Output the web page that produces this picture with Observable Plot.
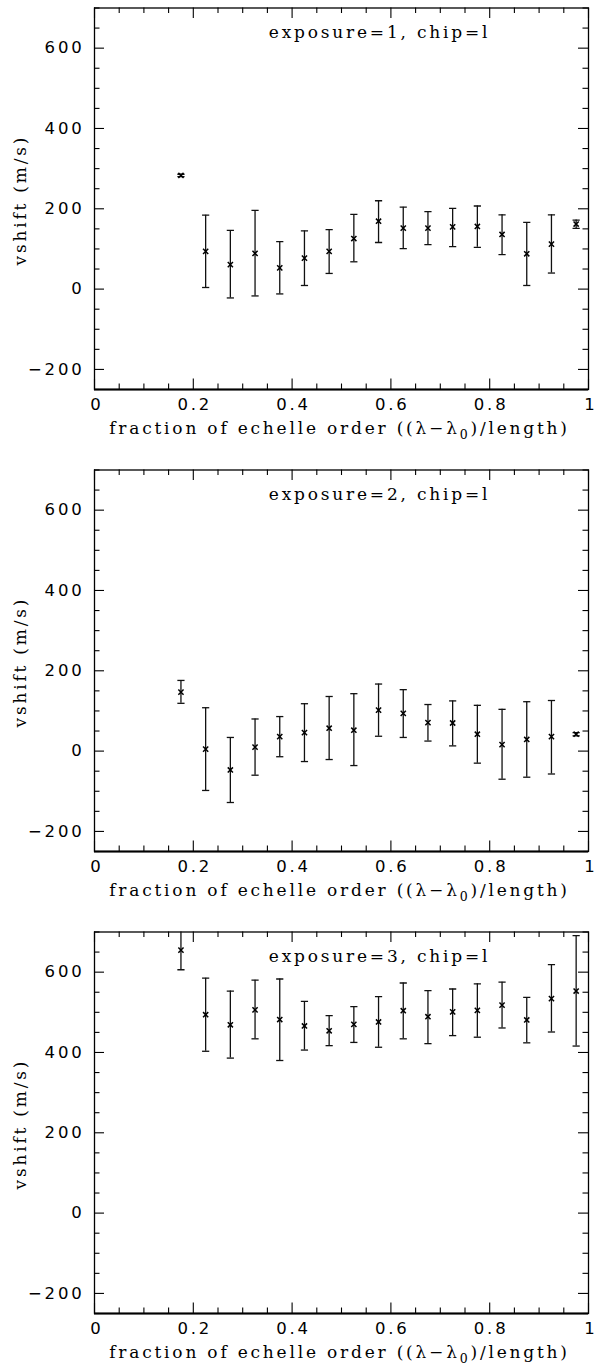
<!DOCTYPE html>
<html><head><meta charset="utf-8">
<script src="https://cdn.jsdelivr.net/npm/d3@7"></script>
<script src="https://cdn.jsdelivr.net/npm/@observablehq/plot@0.6"></script>
<style>
body{margin:0;background:#fff;}
#chart svg{display:block;}
</style></head><body><div id="chart"></div>
<script>
// ---- data ----
const xPos = [0.175, 0.225, 0.275, 0.325, 0.375, 0.425, 0.475, 0.525, 0.575, 0.625, 0.675, 0.725, 0.775, 0.825, 0.875, 0.925, 0.975];

const exp1Val = [283, 94, 61, 89, 53, 77, 94, 126, 169, 152, 152, 155, 156, 136, 88, 112, 162];
const exp1Lo  = [280, 4, -22, -17, -12, 9, 39, 68, 116, 101, 111, 106, 104, 86, 9, 40, 151];
const exp1Hi  = [286, 184, 146, 196, 118, 145, 148, 186, 220, 204, 193, 201, 207, 185, 166, 185, 172];

const exp2Val = [147, 5, -47, 10, 36, 46, 57, 52, 102, 94, 71, 70, 42, 16, 29, 36, 42];
const exp2Lo  = [119, -98, -128, -60, -14, -26, -21, -36, 37, 34, 25, 13, -30, -70, -65, -57, 38];
const exp2Hi  = [176, 108, 34, 80, 86, 118, 136, 143, 167, 153, 116, 125, 114, 104, 123, 126, 46];

const exp3Val = [655, 494, 469, 506, 482, 466, 454, 470, 476, 504, 489, 501, 505, 518, 481, 534, 553];
const exp3Lo  = [606, 403, 386, 434, 380, 406, 417, 425, 413, 434, 422, 442, 438, 461, 424, 451, 416];
const exp3Hi  = [704, 585, 553, 580, 583, 527, 492, 514, 539, 573, 554, 558, 571, 575, 537, 619, 691];

const panelTitles = ["exposure=1, chip=l", "exposure=2, chip=l", "exposure=3, chip=l"];
const xLabel = "fraction of echelle order ((λ−λ0)/length)";
const yLabel = "vshift (m/s)";

const xTickLabels = [0, 0.2, 0.4, 0.6, 0.8, 1];
const xMinorTicks = [0.05, 0.1, 0.15, 0.25, 0.3, 0.35, 0.45, 0.5, 0.55, 0.65, 0.7, 0.75, 0.85, 0.9, 0.95];
const yTickLabels = [-200, 0, 200, 400, 600];
const yMinorTicks = [-250, -150, -100, -50, 50, 100, 150, 250, 300, 350, 450, 500, 550, 650, 700];

// ---- layout ----
const W = 595, ML = 94, MR = 7, MT = 7.5, FH = 381.5;
const FW = W - ML - MR;
const serif = "'DejaVu Serif', serif";
const sans = "'DejaVu Sans', sans-serif";

const capSymbol = {draw(ctx, size) { const w = Math.sqrt(size / Math.PI); ctx.moveTo(-w, 0); ctx.lineTo(w, 0); }};
const crossSymbol = {draw(ctx, size) { const w = Math.sqrt(size / Math.PI); ctx.moveTo(-w, -w); ctx.lineTo(w, w); ctx.moveTo(-w, w); ctx.lineTo(w, -w); }};

function panel(vals, lo, hi, title, h) {
  const data = xPos.map((x, i) => ({x, v: vals[i], lo: lo[i], hi: hi[i]}));
  const fmtX = d => String(+d.toFixed(1));
  const svg = Plot.plot({
    width: W, height: h,
    marginTop: MT, marginBottom: h - MT - FH, marginLeft: ML, marginRight: MR,
    x: {domain: [0, 1]},
    y: {domain: [-250, 700]},
    style: {background: "#fff", color: "#000", letterSpacing: "2.8px"},
    marks: [
      // inward ticks, four sides
      Plot.tickX(xTickLabels, {x: d => d, insetTop: FH - 10.5, stroke: "#000", strokeWidth: 1.1}),
      Plot.tickX(xMinorTicks, {x: d => d, insetTop: FH - 5.5, stroke: "#000", strokeWidth: 1.1}),
      Plot.tickX(xTickLabels, {x: d => d, insetBottom: FH - 10.5, stroke: "#000", strokeWidth: 1.1}),
      Plot.tickX(xMinorTicks, {x: d => d, insetBottom: FH - 5.5, stroke: "#000", strokeWidth: 1.1}),
      Plot.tickY(yTickLabels, {y: d => d, insetRight: FW - 10, stroke: "#000", strokeWidth: 1.1}),
      Plot.tickY(yMinorTicks, {y: d => d, insetRight: FW - 5.5, stroke: "#000", strokeWidth: 1.1}),
      Plot.tickY(yTickLabels, {y: d => d, insetLeft: FW - 10, stroke: "#000", strokeWidth: 1.1}),
      Plot.tickY(yMinorTicks, {y: d => d, insetLeft: FW - 5.5, stroke: "#000", strokeWidth: 1.1}),
      Plot.frame({stroke: "#000", strokeWidth: 1.3}),
      Plot.ruleY([-250], {stroke: "#000", strokeWidth: 2.2}),
      // tick labels
      Plot.axisX(xTickLabels, {tickSize: 0, tickPadding: 9, fontSize: 16.5, fontFamily: sans, tickFormat: fmtX, dx: 1.4, label: null}),
      Plot.axisY(yTickLabels, {tickSize: 0, tickPadding: 10, fontSize: 16.5, fontFamily: sans, label: null}),
      // error bars
      Plot.ruleX(data, {x: "x", y1: "lo", y2: "hi", stroke: "#111", strokeWidth: 1.3, clip: true}),
      Plot.dot(data, {x: "x", y: "lo", symbol: capSymbol, r: 3.6, stroke: "#111", strokeWidth: 1.3, clip: true}),
      Plot.dot(data, {x: "x", y: "hi", symbol: capSymbol, r: 3.6, stroke: "#111", strokeWidth: 1.3, clip: true}),
      Plot.dot(data, {x: "x", y: "v", symbol: crossSymbol, r: 2.6, stroke: "#000", strokeWidth: 1.5}),
      // texts
      Plot.text([title], {frameAnchor: "top", text: d => d, dx: 38, dy: 30, lineAnchor: "bottom", fontSize: 17, fontFamily: serif, fill: "#000"}),
      Plot.text([yLabel], {frameAnchor: "left", text: d => d, rotate: -90, dx: -74, dy: 1.4, lineAnchor: "middle", textAnchor: "middle", fontSize: 17, fontFamily: serif, fill: "#000"}),
      Plot.text([xLabel], {frameAnchor: "bottom", text: d => d, dx: -2, dy: 44, lineAnchor: "bottom", textAnchor: "middle", fontSize: 17, fontFamily: serif, fill: "#000"})
    ]
  });
  const s = d3.select(svg);
  // subscript 0 in λ0
  s.selectAll("text").each(function() {
    const t = this.textContent;
    if (t === xLabel) {
      const [a, b] = t.split("λ0");
      const sel = d3.select(this);
      sel.text(null);
      sel.append("tspan").text(a + "λ");
      sel.append("tspan").attr("dy", 5).attr("font-size", 12.5).text("0");
      sel.append("tspan").attr("dy", -5).text(b);
    }
  });
  // single-character tick labels: no trailing letter spacing, so they stay centered and inside the page
  s.selectAll('g[aria-label="x-axis tick label"] text').each(function() {
    if (this.textContent.length === 1) {
      this.style.letterSpacing = "0px";
      this.setAttribute("dx", "-0.5");
    }
  });
  return svg;
}

const root = document.getElementById("chart");
root.appendChild(panel(exp1Val, exp1Lo, exp1Hi, panelTitles[0], 462));
root.appendChild(panel(exp2Val, exp2Lo, exp2Hi, panelTitles[1], 462));
root.appendChild(panel(exp3Val, exp3Lo, exp3Hi, panelTitles[2], 440));
</script>
</body></html>
